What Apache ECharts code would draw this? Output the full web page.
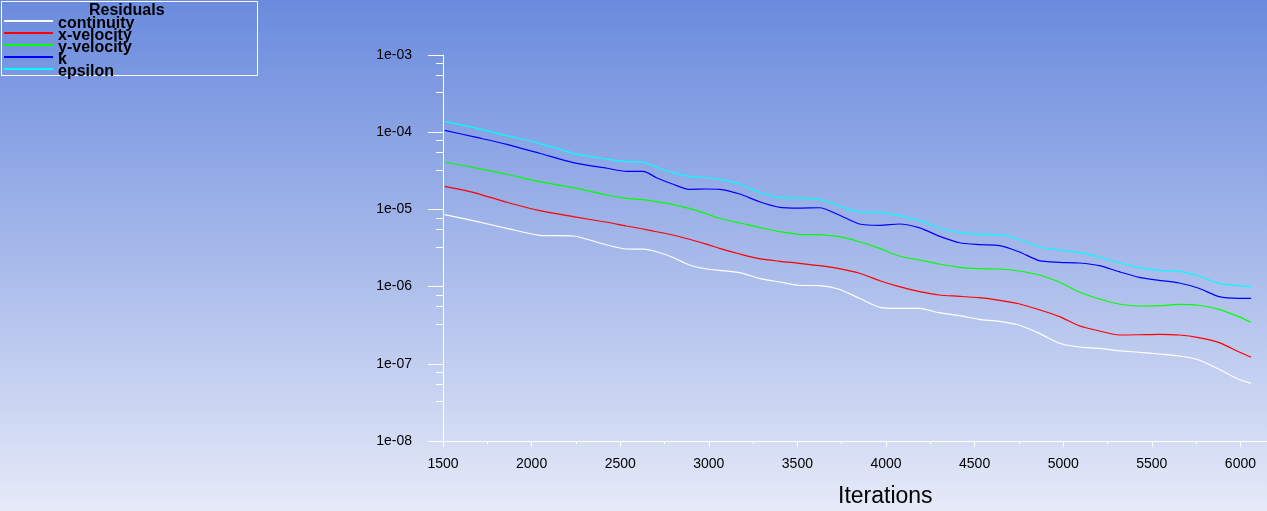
<!DOCTYPE html>
<html>
<head>
<meta charset="utf-8">
<script src="https://cdn.jsdelivr.net/npm/echarts@6/dist/echarts.min.js"></script>
<style>
html,body{margin:0;padding:0;width:1267px;height:511px;overflow:hidden;}
#chart{width:1267px;height:511px;}
</style>
</head>
<body>
<div id="chart"></div>
<script>
const iterations = [1510,1670,1860,2045,2235,2425,2535,2630,2705,2795,2890,2990,3060,
  3175,3285,3400,3510,3625,3735,3850,3965,4075,4190,4300,4415,4525,4640,
  4750,4865,4980,5090,5205,5315,5430,5540,5655,5765,5880,5990,6060];

const continuity = [8.54e-6,7.14e-6,5.69e-6,4.62e-6,4.52e-6,3.46e-6,3.07e-6,3.05e-6,2.83e-6,2.40e-6,1.905e-6,1.69e-6,1.626e-6,
  1.514e-6,1.281e-6,1.147e-6,1.039e-6,1.027e-6,9.23e-7,7.05e-7,5.39e-7,5.23e-7,5.23e-7,4.59e-7,4.20e-7,3.77e-7,3.55e-7,
  3.18e-7,2.48e-7,1.843e-7,1.651e-7,1.588e-7,1.478e-7,1.409e-7,1.339e-7,1.262e-7,1.12e-7,8.49e-8,6.30e-8,5.59e-8];

const xVelocity = [1.992e-5,1.665e-5,1.236e-5,9.62e-6,8.04e-6,6.81e-6,6.10e-6,5.57e-6,5.14e-6,4.66e-6,4.10e-6,3.53e-6,3.13e-6,
  2.645e-6,2.30e-6,2.127e-6,2.003e-6,1.866e-6,1.706e-6,1.487e-6,1.192e-6,9.97e-7,8.59e-7,7.78e-7,7.49e-7,7.18e-7,6.64e-7,
  6.00e-7,5.02e-7,4.08e-7,3.11e-7,2.66e-7,2.36e-7,2.38e-7,2.41e-7,2.36e-7,2.18e-7,1.877e-7,1.435e-7,1.214e-7];

const yVelocity = [4.08e-5,3.51e-5,2.85e-5,2.285e-5,1.91e-5,1.536e-5,1.392e-5,1.335e-5,1.258e-5,1.164e-5,1.033e-5,8.72e-6,7.67e-6,
  6.66e-6,5.86e-6,5.14e-6,4.76e-6,4.70e-6,4.43e-6,3.815e-6,3.13e-6,2.49e-6,2.21e-6,1.962e-6,1.778e-6,1.706e-6,1.69e-6,
  1.593e-6,1.413e-6,1.137e-6,8.51e-7,6.91e-7,5.95e-7,5.61e-7,5.66e-7,5.90e-7,5.73e-7,5.08e-7,4.08e-7,3.45e-7];

const kValues = [1.058e-4,8.745e-5,6.97e-5,5.33e-5,4.03e-5,3.41e-5,3.11e-5,3.11e-5,2.57e-5,2.13e-5,1.821e-5,1.837e-5,1.821e-5,
  1.583e-5,1.258e-5,1.065e-5,1.04e-5,1.05e-5,8.46e-6,6.47e-6,6.22e-6,6.47e-6,5.77e-6,4.51e-6,3.7e-6,3.5e-6,3.4e-6,
  2.83e-6,2.165e-6,2.064e-6,2.02e-6,1.866e-6,1.56e-6,1.32e-6,1.207e-6,1.113e-6,9.51e-7,7.40e-7,7.05e-7,7.05e-7];

const epsilon = [1.384e-4,1.157e-4,9.01e-5,7.18e-5,5.33e-5,4.49e-5,4.15e-5,4.08e-5,3.51e-5,2.99e-5,2.68e-5,2.57e-5,2.45e-5,
  2.13e-5,1.665e-5,1.417e-5,1.405e-5,1.351e-5,1.107e-5,9.25e-6,9.17e-6,8.29e-6,7.14e-6,5.74e-6,4.99e-6,4.76e-6,4.70e-6,
  4.10e-6,3.26e-6,2.98e-6,2.75e-6,2.40e-6,2.04e-6,1.757e-6,1.626e-6,1.578e-6,1.372e-6,1.103e-6,1.027e-6,9.97e-7];

const seriesNames = ['continuity','x-velocity','y-velocity','k','epsilon'];
const seriesColors = ['#ffffff','#ff0000','#00ff00','#0000ff','#00ffff'];
const seriesValues = [continuity, xVelocity, yVelocity, kValues, epsilon];

const yTickValues = [1e-8,1e-7,1e-6,1e-5,1e-4,1e-3];
const yTickLabels = ['1e-08','1e-07','1e-06','1e-05','1e-04','1e-03'];

const FONT = 'Liberation Sans, Arial, sans-serif';

const chart = echarts.init(document.getElementById('chart'));

const series = seriesNames.map((name, i) => ({
  name: name,
  type: 'line',
  showSymbol: false,
  symbol: 'none',
  smooth: 0.25,
  lineStyle: {color: seriesColors[i], width: 1.2},
  itemStyle: {color: seriesColors[i]},
  data: iterations.map((it, j) => [it, seriesValues[i][j]])
}));

chart.setOption({
  animation: false,
  backgroundColor: {
    type: 'linear', x: 0, y: 0, x2: 0, y2: 1,
    colorStops: [
      {offset: 0, color: '#6a8bdd'},
      {offset: 0.5, color: '#a6b9ea'},
      {offset: 1, color: '#e6eaf8'}
    ]
  },
  title: [
    {
      text: 'Residuals', left: 89, top: 3, padding: 0,
      textStyle: {fontFamily: FONT, fontSize: 16, fontWeight: 'bold', color: '#000'}
    },
    {
      text: 'Iterations', left: 838, top: 485, padding: 0,
      textStyle: {fontFamily: FONT, fontSize: 23, fontWeight: 'normal', color: '#000'}
    }
  ],
  graphic: [{
    type: 'rect',
    shape: {x: 1.5, y: 1.5, width: 256, height: 74},
    style: {fill: 'none', stroke: '#ffffff', lineWidth: 1},
    silent: true
  }],
  legend: {
    orient: 'vertical',
    left: 4, top: 16, padding: 0,
    itemWidth: 49, itemHeight: 2, itemGap: -4,
    icon: 'rect',
    data: seriesNames,
    formatter: '{t|{name}}',
    textStyle: {
      fontFamily: FONT, fontSize: 16, fontWeight: 'bold', color: '#000',
      rich: {t: {fontFamily: FONT, fontSize: 16, fontWeight: 'bold', color: '#000', padding: [6, 0, 0, 0]}}
    }
  },
  grid: {left: 443, right: 0, top: 55, bottom: 70, containLabel: false},
  xAxis: {
    type: 'value',
    min: 1500, max: 6150, interval: 500,
    axisLine: {show: true, lineStyle: {color: '#ffffff', width: 1}},
    axisTick: {show: true, length: 6, inside: false, lineStyle: {color: '#ffffff'}},
    minorTick: {show: true, splitNumber: 2, length: 3, lineStyle: {color: '#ffffff'}},
    splitLine: {show: false},
    axisLabel: {
      fontFamily: FONT, fontSize: 14, color: '#000', margin: 16,
      showMaxLabel: false,
      formatter: function (v) { return String(v); }
    }
  },
  yAxis: {
    type: 'log',
    logBase: 10,
    min: yTickValues[0], max: yTickValues[yTickValues.length - 1],
    axisLine: {show: true, lineStyle: {color: '#ffffff', width: 1}},
    axisTick: {show: true, length: 15, inside: false, lineStyle: {color: '#ffffff'}},
    minorTick: {show: true, splitNumber: 4, length: 7, lineStyle: {color: '#ffffff'}},
    splitLine: {show: false},
    axisLabel: {
      fontFamily: FONT, fontSize: 14, color: '#000', margin: 31,
      formatter: function (v) {
        let best = 0, bd = Infinity;
        yTickValues.forEach((t, i) => {
          const d = Math.abs(Math.log10(t) - Math.log10(v));
          if (d < bd) { bd = d; best = i; }
        });
        return yTickLabels[best];
      }
    }
  },
  series: series
});
</script>
</body>
</html>
